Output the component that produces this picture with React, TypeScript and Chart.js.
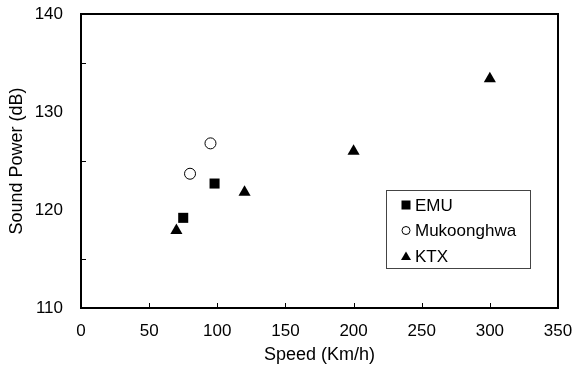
import React, { useEffect, useRef } from 'react';
import { Chart, registerables } from 'chart.js';

Chart.register(...registerables);

// Sound power of trains against running speed
const emuSpeed = [75, 98];
const emuPower = [119.2, 122.7];
const mukSpeed = [80, 95];
const mukPower = [123.7, 126.8];
const ktxSpeed = [70, 120, 200, 300];
const ktxPower = [117.9, 121.8, 126.0, 133.4];

const seriesNames = ['EMU', 'Mukoonghwa', 'KTX'];
const xRange = [0, 350];
const yRange = [110, 140];
const xStep = 50;
const yStep = 10;
const yMinorStep = 5;

const FONT = '"Liberation Sans", Arial, sans-serif';

const toPoints = (xs: number[], ys: number[]) => xs.map((x, i) => ({ x, y: ys[i] }));

type Marker = 'rect' | 'circle' | 'triangle';

function drawMarker(ctx: CanvasRenderingContext2D, kind: Marker, x: number, y: number, s: number) {
  ctx.save();
  ctx.beginPath();
  if (kind === 'rect') {
    ctx.fillStyle = '#000';
    ctx.fillRect(x - s / 2, y - s / 2, s, s);
  } else if (kind === 'circle') {
    ctx.arc(x, y, s / 2, 0, Math.PI * 2);
    ctx.fillStyle = '#fff';
    ctx.fill();
    ctx.lineWidth = 1;
    ctx.strokeStyle = '#000';
    ctx.stroke();
  } else {
    ctx.moveTo(x, y - s * 0.45);
    ctx.lineTo(x + s / 2, y + s * 0.4);
    ctx.lineTo(x - s / 2, y + s * 0.4);
    ctx.closePath();
    ctx.fillStyle = '#000';
    ctx.fill();
  }
  ctx.restore();
}

// Plot frame, inward tick marks and the boxed legend
const framePlugin = {
  id: 'frameAndLegend',
  afterDraw(chart: any) {
    const { ctx, chartArea } = chart;
    const { left, right, top, bottom } = chartArea;
    const xs = chart.scales.x;
    const ys = chart.scales.y;
    ctx.save();
    ctx.strokeStyle = '#000';
    ctx.lineWidth = 2;
    ctx.strokeRect(left, top, right - left, bottom - top);

    ctx.lineWidth = 1;
    ctx.beginPath();
    for (let v = xRange[0] + xStep; v < xRange[1]; v += xStep) {
      const px = Math.round(xs.getPixelForValue(v)) + 0.5;
      ctx.moveTo(px, bottom);
      ctx.lineTo(px, bottom - 5);
    }
    for (let v = yRange[0] + yMinorStep; v < yRange[1]; v += yStep) {
      const py = Math.round(ys.getPixelForValue(v)) + 0.5;
      ctx.moveTo(left, py);
      ctx.lineTo(left + 5, py);
    }
    ctx.stroke();

    // legend box
    const bx = right - 172;
    const by = top + 176;
    const bw = 144;
    const bh = 78;
    ctx.fillStyle = '#fff';
    ctx.fillRect(bx, by, bw, bh);
    ctx.strokeStyle = '#444';
    ctx.lineWidth = 1;
    ctx.strokeRect(bx + 0.5, by + 0.5, bw, bh);

    const kinds: Marker[] = ['rect', 'circle', 'triangle'];
    const sizes = [9, 8, 10];
    ctx.font = `17px ${FONT}`;
    ctx.fillStyle = '#000';
    ctx.textBaseline = 'middle';
    ctx.textAlign = 'left';
    seriesNames.forEach((name, i) => {
      const cy = by + 15 + i * 25.5;
      drawMarker(ctx, kinds[i], bx + 20, cy, sizes[i]);
      ctx.fillStyle = '#000';
      ctx.fillText(name, bx + 29, cy + 1);
    });
    ctx.restore();
  },
};

// hidden tick marks are used only to offset the labels from the frame
const hiddenGrid = (len: number) => ({
  display: true,
  drawOnChartArea: false,
  drawTicks: true,
  tickLength: len,
  color: 'rgba(0,0,0,0)',
});

export default function App() {
  const canvasRef = useRef<HTMLCanvasElement | null>(null);

  useEffect(() => {
    document.body.style.margin = '0';
    const canvas = canvasRef.current;
    if (!canvas) return;
    const chart = new Chart(canvas, {
      type: 'scatter',
      data: {
        datasets: [
          {
            label: seriesNames[0],
            data: toPoints(emuSpeed, emuPower),
            pointStyle: 'rect',
            pointRadius: 7.1,
            backgroundColor: '#000',
            borderColor: '#000',
            borderWidth: 0,
          },
          {
            label: seriesNames[1],
            data: toPoints(mukSpeed, mukPower),
            pointStyle: 'circle',
            pointRadius: 5.5,
            backgroundColor: '#fff',
            borderColor: '#000',
            borderWidth: 1,
          },
          {
            label: seriesNames[2],
            data: toPoints(ktxSpeed, ktxPower),
            pointStyle: 'triangle',
            pointRadius: 7,
            backgroundColor: '#000',
            borderColor: '#000',
            borderWidth: 0,
          },
        ],
      },
      options: {
        animation: false,
        responsive: false,
        layout: { padding: { top: 14, right: 17, left: 0, bottom: 0 } },
        plugins: {
          legend: { display: false },
          tooltip: { enabled: false },
        },
        scales: {
          x: {
            type: 'linear',
            min: xRange[0],
            max: xRange[1],
            border: { display: false },
            grid: hiddenGrid(13),
            ticks: {
              stepSize: xStep,
              padding: 0,
              color: '#000',
              font: { family: FONT, size: 17 },
            },
            title: {
              display: true,
              text: 'Speed (Km/h)',
              color: '#000',
              font: { family: FONT, size: 18 },
              padding: { top: 0, bottom: 12 },
            },
            afterFit: (s: any) => {
              s.height = 70;
            },
          },
          y: {
            type: 'linear',
            min: yRange[0],
            max: yRange[1],
            border: { display: false },
            grid: hiddenGrid(18),
            ticks: {
              stepSize: yStep,
              padding: 0,
              color: '#000',
              font: { family: FONT, size: 17 },
            },
            title: {
              display: true,
              text: 'Sound Power (dB)',
              color: '#000',
              font: { family: FONT, size: 18 },
              padding: { top: 6, bottom: 0 },
            },
            afterFit: (s: any) => {
              s.width = 81;
            },
          },
        },
      },
      plugins: [framePlugin],
    });
    return () => chart.destroy();
  }, []);

  return (
    <div style={{ width: 575, height: 378, background: '#fff' }}>
      <canvas ref={canvasRef} width={575} height={378} />
    </div>
  );
}
